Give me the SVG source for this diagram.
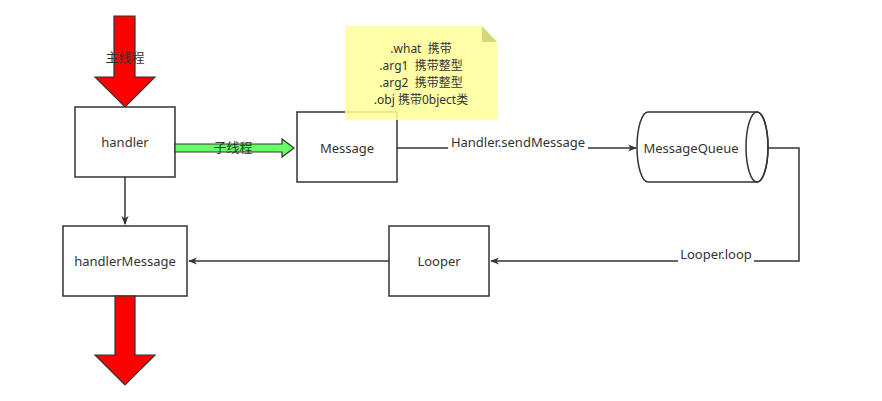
<svg xmlns="http://www.w3.org/2000/svg" width="882" height="401" viewBox="0 0 882 401">
<defs>
<style>
.box{fill:#fff;stroke:#333;stroke-width:1.5}
.t{font-family:"Noto Sans","Noto Sans CJK SC",sans-serif;font-size:13px;fill:#333;text-anchor:middle;dominant-baseline:central;white-space:pre}
.n{font-size:12px}
.conn{fill:none;stroke:#333;stroke-width:1.5}
.red{fill:#ff0000;stroke:#333;stroke-width:1.2}
</style>
<marker id="ah" viewBox="0 0 10 10" refX="9" refY="5" markerWidth="9" markerHeight="9" markerUnits="userSpaceOnUse" orient="auto">
<path d="M0,1 L10,5 L0,9 L3,5 Z" fill="#333"/>
</marker>
</defs>
<rect width="882" height="401" fill="#fff"/>

<g id="connectors">
<line class="conn" x1="125" y1="177" x2="125" y2="224" marker-end="url(#ah)"/>
<line class="conn" x1="397" y1="148" x2="636" y2="148" marker-end="url(#ah)"/>
<polyline class="conn" points="768,148 799,148 799,261 491,261" marker-end="url(#ah)"/>
<line class="conn" x1="389" y1="261" x2="189" y2="261" marker-end="url(#ah)"/>
<rect x="448" y="134" width="140" height="16" fill="#fff"/>
<text class="t" x="518" y="142">Handler.sendMessage</text>
<rect x="678" y="246" width="76" height="16" fill="#fff"/>
<text class="t" x="716" y="254">Looper.loop</text>
</g>

<g id="main-thread-arrow">
<path class="red" d="M114,16 L135,16 L135,77 L155,77 L125,107 L95,77 L114,77 Z"/>
<text class="t" x="125" y="57">主线程</text>
</g>

<g id="handler">
<rect class="box" x="75" y="107" width="100" height="70"/>
<text class="t" x="125" y="142">handler</text>
</g>

<g id="sub-thread-arrow">
<path d="M175,144 L282,144 L282,139 L294,148 L282,157 L282,152 L175,152 Z" fill="#66ff66" stroke="#333" stroke-width="1.2"/>
<text class="t" x="233" y="147">子线程</text>
</g>

<g id="message">
<rect class="box" x="297" y="112" width="100" height="70"/>
<text class="t" x="347" y="148">Message</text>
</g>

<g id="note">
<path d="M345,26 L482,26 L497,42 L497,120 L345,120 Z" fill="#ffff99" fill-opacity="0.85" stroke="none"/>
<path d="M482,26 L482,42 L497,42 Z" fill="#d6d67a"/>
<text class="t n" x="421" y="48" xml:space="preserve">.what  携带</text>
<text class="t n" x="421" y="65" xml:space="preserve">.arg1  携带整型</text>
<text class="t n" x="421" y="82" xml:space="preserve">.arg2  携带整型</text>
<text class="t n" x="421" y="99">.obj 携带0bject类</text>
</g>

<g id="messagequeue">
<path class="box" d="M648,112 L757,112 A11,35 0 0 1 757,182 L648,182 A11,35 0 0 1 648,112 Z"/>
<ellipse cx="757" cy="147" rx="11" ry="35" fill="none" stroke="#333" stroke-width="1.5"/>
<text class="t" x="691" y="148">MessageQueue</text>
</g>

<g id="looper">
<rect class="box" x="389" y="226" width="100" height="70"/>
<text class="t" x="439" y="261">Looper</text>
</g>

<g id="handlerMessage">
<rect class="box" x="63" y="226" width="124" height="70"/>
<text class="t" x="125" y="261">handlerMessage</text>
</g>

<g id="exit-arrow">
<path class="red" d="M115,296 L135,296 L135,355 L155,355 L125,385 L95,355 L115,355 Z"/>
</g>
</svg>
